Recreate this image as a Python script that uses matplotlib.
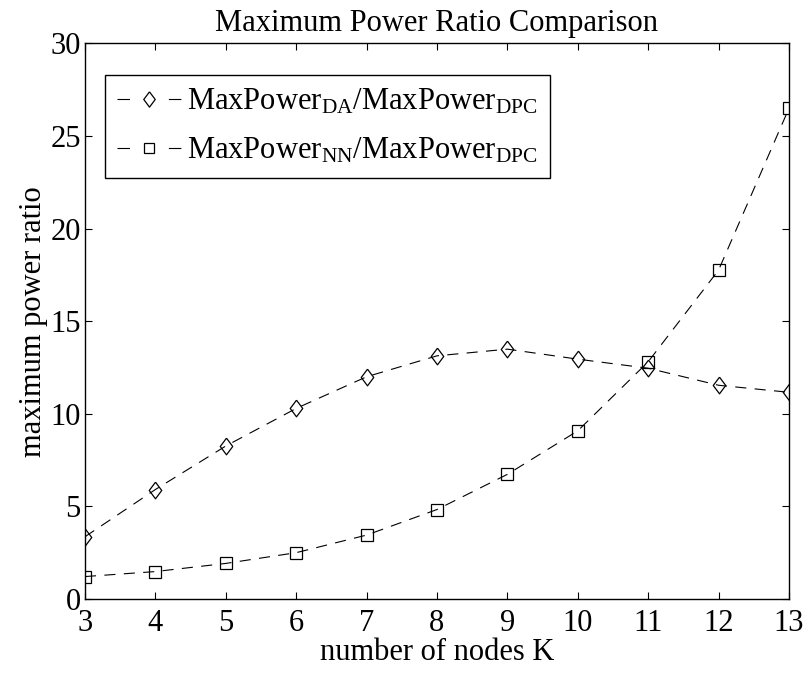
import matplotlib.pyplot as plt
from matplotlib.lines import Line2D

plt.rcParams['font.family'] = ['Liberation Serif', 'DejaVu Serif']
plt.rcParams['mathtext.fontset'] = 'custom'
plt.rcParams['mathtext.rm'] = 'Liberation Serif'
plt.rcParams['mathtext.it'] = 'Liberation Serif:italic'
plt.rcParams['lines.scale_dashes'] = False

# node counts and ratios
K = [3, 4, 5, 6, 7, 8, 9, 10, 11, 12, 13]
ratio_da = [3.36, 5.91, 8.26, 10.29, 12.0, 13.13, 13.49, 12.95, 12.46, 11.54, 11.16]
ratio_nn = [1.21, 1.48, 1.92, 2.50, 3.45, 4.83, 6.73, 9.08, 12.81, 17.76, 26.5]

label_da = r'MaxPower$_{\mathrm{DA}}$/MaxPower$_{\mathrm{DPC}}$'
label_nn = r'MaxPower$_{\mathrm{NN}}$/MaxPower$_{\mathrm{DPC}}$'

# matlab-style diamond (a bit taller than wide)
diamond = [(0, 1), (0.75, 0), (0, -1), (-0.75, 0), (0, 1)]

fig = plt.figure(figsize=(8.07, 6.73), dpi=100)
ax = fig.add_axes([0.1053, 0.110, 0.8724, 0.8255])

style = dict(color='black', lw=0.8, markerfacecolor='none',
             markeredgecolor='black', markeredgewidth=0.9)
ax.plot(K, ratio_da, dashes=(8, 6), marker=diamond, markersize=12, **style)
ax.plot(K, ratio_nn, dashes=(8, 6), marker='s', markersize=8, **style)

ax.set_xlim(3, 13)
ax.set_ylim(0, 30)
ax.set_xticks(range(3, 14))
ax.set_yticks(range(0, 31, 5))
ax.tick_params(direction='in', length=5, width=0.8, top=True, right=True,
               labelsize=22)
ax.tick_params(axis='x', pad=7)
ax.tick_params(axis='y', pad=3)
for s in ax.spines.values():
    s.set_linewidth(1.0)

ax.set_title('Maximum Power Ratio Comparison', fontsize=22, pad=9)
ax.set_xlabel('number of nodes K', fontsize=22, labelpad=0)
ax.set_ylabel('maximum power ratio', fontsize=22, labelpad=2)

# legend entries: short dash, marker, short dash
h_da = Line2D([], [], dashes=(9, 28), marker=diamond, markersize=11, **style)
h_nn = Line2D([], [], dashes=(9, 28), marker='s', markersize=7, **style)
leg = ax.legend([h_da, h_nn], [label_da, label_nn], loc='upper left',
                bbox_to_anchor=(0.028, 0.944), borderaxespad=0, fontsize=22,
                fancybox=False, edgecolor='black', framealpha=1,
                handlelength=2.1, handletextpad=0.2, borderpad=0.4,
                labelspacing=0.65)
leg.get_frame().set_linewidth(1.0)

fig.savefig('out.png', dpi=100)
